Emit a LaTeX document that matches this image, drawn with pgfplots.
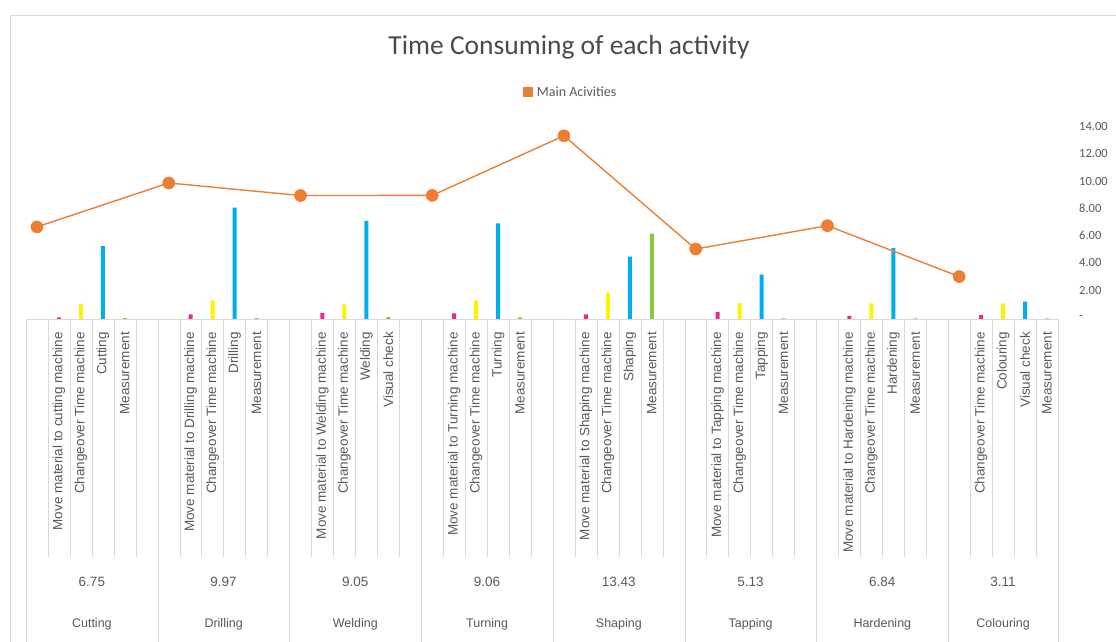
\documentclass[border=0pt]{standalone}
\usepackage{pgfplots}
\pgfplotsset{compat=1.18}
\usepackage{fontspec}
\setmainfont{Carlito}
\newfontfamily\arialf{Liberation Sans}
\definecolor{txt}{HTML}{595959}
\definecolor{ttl}{HTML}{4A4A4A}
\definecolor{gridc}{HTML}{D9D9D9}
\definecolor{cOrange}{HTML}{ED7D31}
\definecolor{cMag}{HTML}{E8288C}
\definecolor{cYel}{HTML}{FFF200}
\definecolor{cBlue}{HTML}{00AEEF}
\definecolor{cGreen}{HTML}{8DC63F}

\newcommand{\lab}[2]{\node[rotate=90,anchor=east,inner sep=0pt,font=\arialf\fontsize{13.5}{15}\selectfont,text=txt] at ([yshift=-13pt]axis cs:#1,0) {#2};}
\newcommand{\grp}[3]{%
 \node[inner sep=0pt,font=\arialf\fontsize{13.5}{15}\selectfont,text=txt] at ([yshift=-263pt]axis cs:#1,0) {#2};
 \node[inner sep=0pt,font=\arialf\fontsize{12.5}{15}\selectfont,text=txt] at ([yshift=-305pt]axis cs:#1,0) {#3};}

\begin{document}
\begin{tikzpicture}
\path[use as bounding box] (0pt,0pt) rectangle (1116pt,642pt);
\draw[gridc, line width=1pt] (10pt,0pt) -- (10pt,626pt) -- (1116pt,626pt);
\node[font=\fontsize{27.5}{30}\selectfont, text=ttl] at (569pt,595pt) {Time Consuming of each activity};
\begin{axis}[
  at={(26pt,323pt)}, anchor=south west,
  scale only axis, width=1032pt, height=191pt,
  xmin=-0.5, xmax=46.5, ymin=0, ymax=14,
  axis x line*=bottom, axis y line*=right,
  axis line style={draw=none},
  major tick length=0pt,
  xtick=\empty,
  ytick={0,2,4,6,8,10,12,14},
  yticklabels={-,2.00,4.00,6.00,8.00,10.00,12.00,14.00},
  yticklabel style={anchor=west, inner sep=0pt, xshift=21pt, yshift=1.5pt, font=\fontsize{12.5}{14}\selectfont, text=txt},
  clip=false,
  legend style={at={(axis description cs:0.528,1.188)}, anchor=center, draw=none, fill=none,
    font=\fontsize{14}{16}\selectfont, text=txt},
]
% grid lines of the category axis
\draw[gridc] (axis cs:-0.5,0) -- (axis cs:46.5,0);
\pgfplotsinvokeforeach{0.5,1.5,2.5,3.5,4.5,6.5,7.5,8.5,9.5,10.5,12.5,13.5,14.5,15.5,16.5,18.5,19.5,20.5,21.5,22.5,24.5,25.5,26.5,27.5,28.5,30.5,31.5,32.5,33.5,34.5,36.5,37.5,38.5,39.5,40.5,42.5,43.5,44.5,45.5}{
  \draw[gridc] (axis cs:#1,0) -- ([yshift=-238pt]axis cs:#1,0);
}
\pgfplotsinvokeforeach{-0.5,5.5,11.5,17.5,23.5,29.5,35.5,41.5,46.5}{
  \draw[gridc] (axis cs:#1,0) -- ([yshift=-325pt]axis cs:#1,0);
}

\addplot[ybar, bar width=4pt, bar shift=0pt, fill=cMag, draw=none, forget plot]
  coordinates {(1,0.12) (7,0.34) (13,0.44) (19,0.42) (25,0.34) (31,0.51) (37,0.22) (43,0.29)};
\addplot[ybar, bar width=4pt, bar shift=0pt, fill=cYel, draw=none, forget plot]
  coordinates {(2,1.10) (8,1.37) (14,1.08) (20,1.37) (26,1.93) (32,1.17) (38,1.15) (44,1.15)};
\addplot[ybar, bar width=4pt, bar shift=0pt, fill=cBlue, draw=none, forget plot]
  coordinates {(3,5.35) (9,8.16) (15,7.20) (21,7.00) (27,4.57) (33,3.25) (39,5.20) (45,1.27)};
\addplot[ybar, bar width=4pt, bar shift=0pt, fill=cGreen, draw=none, forget plot]
  coordinates {(4,0.07) (10,0.07) (16,0.13) (22,0.12) (28,6.25) (34,0.05) (40,0.05) (46,0.05)};

\addplot[color=cOrange, line width=1.4pt, mark=*, mark size=6pt,
  mark options={fill=cOrange, draw=cOrange, line width=0.6pt},
  legend image code/.code={\fill[cOrange] (0pt,-4pt) rectangle (8pt,4pt);}]
  coordinates {(0,6.75) (6,9.97) (12,9.05) (18,9.06) (24,13.43) (30,5.13) (36,6.84) (42,3.11)};
\addlegendentry{\hspace{2pt}Main Acivities}

% level 1 labels
\lab{1}{Move material to cutting machine}
\lab{2}{Changeover Time machine}
\lab{3}{Cutting}
\lab{4}{Measurement}
\lab{7}{Move material to Drilling machine}
\lab{8}{Changeover Time machine}
\lab{9}{Drilling}
\lab{10}{Measurement}
\lab{13}{Move material to Welding machine}
\lab{14}{Changeover Time machine}
\lab{15}{Welding}
\lab{16}{Visual check}
\lab{19}{Move material to Turning machine}
\lab{20}{Changeover Time machine}
\lab{21}{Turning}
\lab{22}{Measurement}
\lab{25}{Move material to Shaping machine}
\lab{26}{Changeover Time machine}
\lab{27}{Shaping}
\lab{28}{Measurement}
\lab{31}{Move material to Tapping machine}
\lab{32}{Changeover Time machine}
\lab{33}{Tapping}
\lab{34}{Measurement}
\lab{37}{Move material to Hardening machine}
\lab{38}{Changeover Time machine}
\lab{39}{Hardening}
\lab{40}{Measurement}
\lab{43}{Changeover Time machine}
\lab{44}{Colouring}
\lab{45}{Visual check}
\lab{46}{Measurement}

% level 2 and 3 labels
\grp{2.5}{6.75}{Cutting}
\grp{8.5}{9.97}{Drilling}
\grp{14.5}{9.05}{Welding}
\grp{20.5}{9.06}{Turning}
\grp{26.5}{13.43}{Shaping}
\grp{32.5}{5.13}{Tapping}
\grp{38.5}{6.84}{Hardening}
\grp{44}{3.11}{Colouring}
\end{axis}
\end{tikzpicture}
\end{document}
